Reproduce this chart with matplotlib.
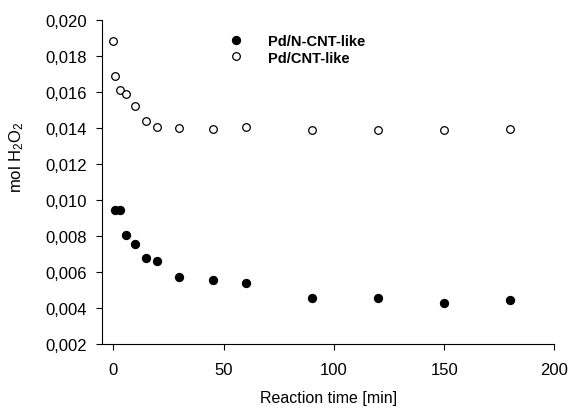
import matplotlib
matplotlib.use("Agg")
import matplotlib.pyplot as plt
from matplotlib.ticker import FuncFormatter

plt.rcParams['font.family'] = ['Liberation Sans', 'DejaVu Sans']
plt.rcParams['mathtext.default'] = 'regular'

# Pd/N-CNT-like (filled)
t_ncnt = [1, 3, 6, 10, 15, 20, 30, 45, 60, 90, 120, 150, 180]
h2o2_ncnt = [0.00946, 0.00946, 0.00805, 0.00754, 0.00676, 0.00659, 0.00570,
             0.00557, 0.00537, 0.00456, 0.00457, 0.00426, 0.00446]

# Pd/CNT-like (open)
t_cnt = [0, 1, 3, 6, 10, 15, 20, 30, 45, 60, 90, 120, 150, 180]
h2o2_cnt = [0.01882, 0.01686, 0.01610, 0.01589, 0.01519, 0.01436, 0.01403,
            0.01397, 0.01395, 0.01402, 0.01390, 0.01390, 0.01390, 0.01392]

xticks = [0, 50, 100, 150, 200]
yticks = [0.002, 0.004, 0.006, 0.008, 0.010, 0.012, 0.014, 0.016, 0.018, 0.020]

fig = plt.figure(figsize=(5.71, 4.10), dpi=100)
ax = fig.add_axes([0.179, 0.1585, 0.792, 0.791])

ax.plot(t_ncnt, h2o2_ncnt, 'o', color='black', markersize=5.7,
        label='Pd/N-CNT-like')
ax.plot(t_cnt, h2o2_cnt, 'o', markerfacecolor='white', markeredgecolor='black',
        markeredgewidth=0.9, markersize=5.5, label='Pd/CNT-like')

ax.set_xlim(-5, 200)
ax.set_ylim(0.002, 0.020)
ax.set_xticks(xticks)
ax.set_yticks(yticks)
ax.yaxis.set_major_formatter(FuncFormatter(lambda v, p: ('%.3f' % v).replace('.', ',')))

ax.spines['top'].set_visible(False)
ax.spines['right'].set_visible(False)
ax.spines['left'].set_linewidth(0.8)
ax.spines['bottom'].set_linewidth(0.8)
ax.tick_params(direction='out', length=4, width=0.8, labelsize=12)
ax.tick_params(axis='y', pad=7)
ax.tick_params(axis='x', pad=9)

ax.set_xlabel('Reaction time [min]', fontsize=11.5)
ax.set_ylabel('mol H$_2$O$_2$', fontsize=12)
ax.xaxis.set_label_coords(0.5, -0.142)
ax.yaxis.set_label_coords(-0.168, 0.58)

ax.legend(loc='upper left', bbox_to_anchor=(0.25, 0.975), frameon=False,
          prop={'weight': 'bold', 'size': 10.5}, handletextpad=1.2,
          labelspacing=0.2, borderaxespad=0)

fig.savefig('out.png', dpi=100)
